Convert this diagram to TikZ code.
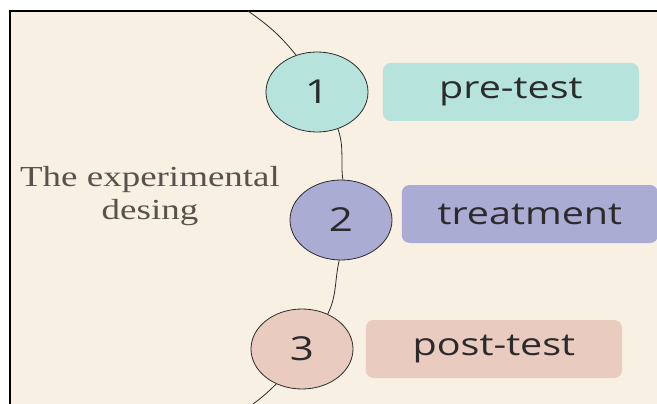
\documentclass[tikz,border=0pt]{standalone}
\usepackage{fontspec}
\setmainfont{Liberation Serif}
\setsansfont{Open Sans}
\usetikzlibrary{positioning}

\definecolor{paper}{HTML}{F8F0E2}
\definecolor{tealfill}{HTML}{B6E3DC}
\definecolor{violetfill}{HTML}{ABACD4}
\definecolor{rosefill}{HTML}{E9CBC0}
\definecolor{ink}{HTML}{2B2B2B}
\definecolor{greyink}{HTML}{57524B}

\begin{document}
\begin{tikzpicture}[
    x=1pt, y=-1pt,
    stage/.style={circle, draw=ink, line width=0.8pt, minimum size=80pt, inner sep=0pt, xscale=1.275, text=ink, font=\sffamily\fontsize{33}{33}\selectfont},
    phase/.style={rounded corners=8pt, minimum width=201pt, minimum height=58pt, inner sep=0pt, xscale=1.275, text=ink, font=\sffamily\fontsize{31}{31}\selectfont},
    title/.style={align=center, xscale=1.275, text=greyink, font=\fontsize{29}{33}\selectfont},
    track/.style={line width=0.8pt, draw=ink}
]
% Frame and background
\useasboundingbox (0,0) rectangle (657,404);
\fill[paper] (10,11) rectangle (657,404);
\draw[line width=2pt, black] (10,404) -- (10,11) -- (657,11);

% Ends of the arc
\coordinate (arctop) at (248,11);
\coordinate (arcbot) at (253,404);

% Stages along the arc
\node[stage, fill=tealfill] (c1) at (317,92) {1};
\node[stage, fill=violetfill] (c2) at (341,220) {2};
\node[stage, fill=rosefill] (c3) at (302,349) {3};

% Labels beside the stages
\node[phase, fill=tealfill, right=14pt of c1] (pre) {pre-test};
\node[phase, fill=violetfill, right=9pt of c2, yshift=6pt] (treat) {treatment};
\node[phase, fill=rosefill, right=12pt of c3] (post) {post-test};

% Title on the left
\node[title] (design) at (150,196) {The experimental\\desing};

% The arc through the stages
\draw[track] (arctop) to[out=-35, in=129] (c1.114);
\draw[track] (c1.-66) to[out=-71, in=97] (c2.88);
\draw[track] (c2.-92) to[out=-103, in=64] (c3.60);
\draw[track] (c3.-120) to[out=-136, in=36] (arcbot);
\end{tikzpicture}
\end{document}
